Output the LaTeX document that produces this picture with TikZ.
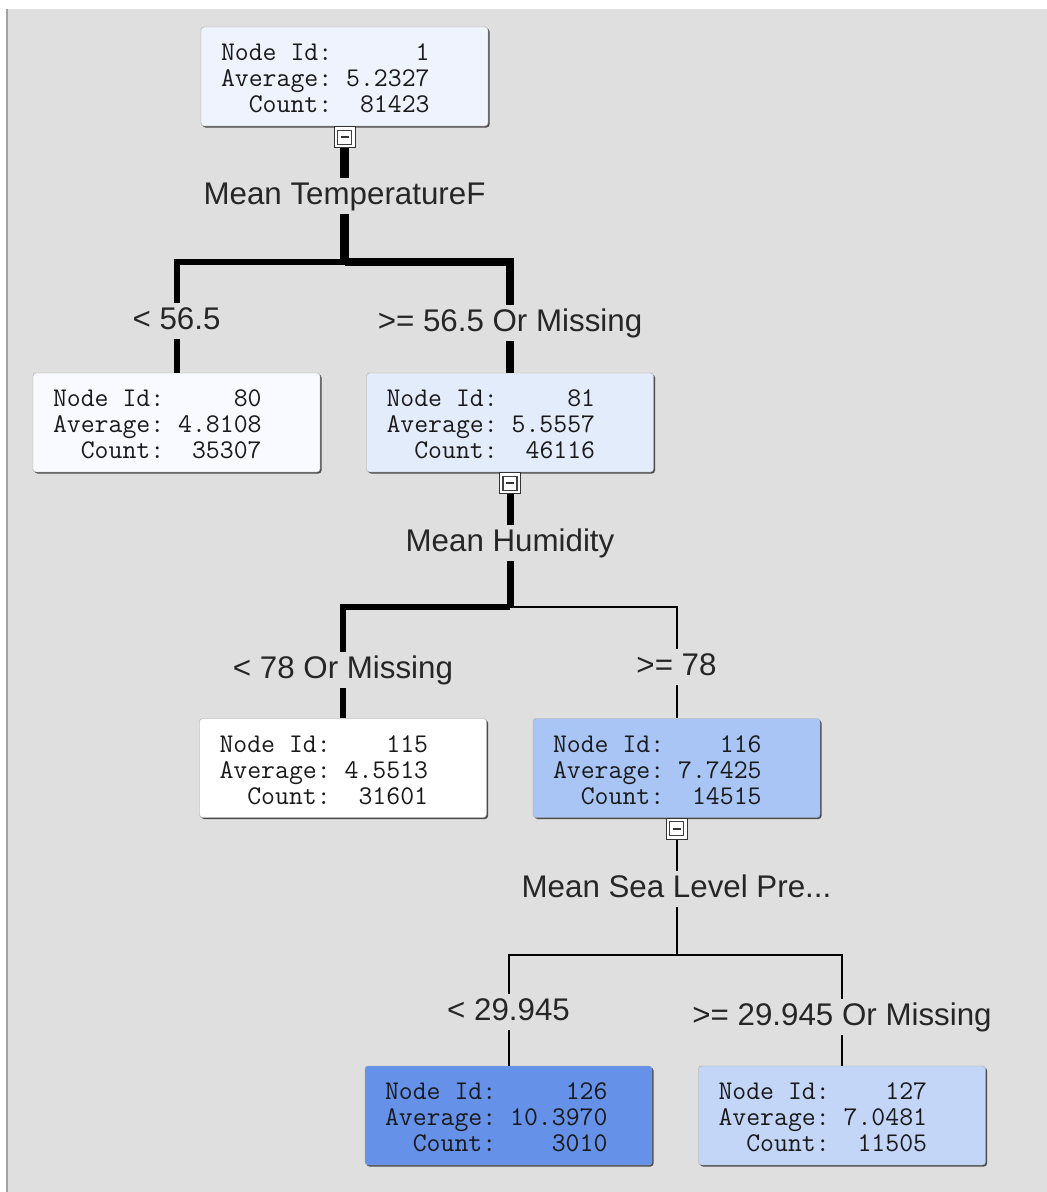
\documentclass[tikz,border=0pt]{standalone}
\usepackage{fontspec}
\setsansfont{Liberation Sans}
\usetikzlibrary{shadows,positioning}

\definecolor{panel}{HTML}{DFDFDF}
\definecolor{frame}{HTML}{A3A3A3}
\definecolor{lvA}{HTML}{F8FAFF}
\definecolor{lvB}{HTML}{EEF3FD}
\definecolor{lvC}{HTML}{E3ECFB}
\definecolor{lvD}{HTML}{C3D6F8}
\definecolor{lvE}{HTML}{A9C5F5}
\definecolor{lvF}{HTML}{6592E8}

\begin{document}
\begin{tikzpicture}[x=1pt,y=-1pt]
		\tikzset{leaf/.style={draw=black!35,rounded corners=3pt,minimum height=99pt,text width=247pt,inner xsep=20pt,inner ysep=0pt,
				align=left,text=black!90,font=\fontsize{27}{26}\selectfont\ttfamily,
				drop shadow={shadow xshift=1.5pt,shadow yshift=-1.5pt,fill=black!70,opacity=1}}};
		\tikzset{fold/.style={draw=black!80,fill=white,minimum width=21pt,minimum height=21pt,inner sep=0pt,line width=1pt,
				path picture={\draw[black!75,line width=1.2pt] ([shift={(3.5pt,3.5pt)}]path picture bounding box.south west) rectangle ([shift={(-3.5pt,-3.5pt)}]path picture bounding box.north east);
					\draw[line width=2pt] ([xshift=-4pt]path picture bounding box.center) -- ([xshift=4pt]path picture bounding box.center);}}};
		\tikzset{split/.style={font=\sffamily\fontsize{31.3}{33}\selectfont,text=black!85,fill=panel,anchor=base,
				text height=22pt,text depth=6pt,inner xsep=2pt,inner ysep=4pt}};
		\tikzset{link/.style={line width=#1,draw=black}};
		\newcommand{\cw}{\hphantom{0}}
		
		% window
		\useasboundingbox (0,0) rectangle (1047,1192);
		\fill[white] (0,0) rectangle (1047,1192);
		\fill[panel] (7,9) rectangle (1047,1192);
		\draw[frame,line width=2pt] (7,9) -- (7,1192);
		
		\foreach \id/\x/\y/\avg/\cnt/\tint in {1/344.5/76.5/5.2327/81423/lvB,80/176.5/422.5/4.8108/35307/lvA,81/510/422.5/5.5557/46116/lvC,
			115/343/768/4.5513/31601/white,116/676.5/768/7.7425/14515/lvE,126/508.5/1115.5/10.3970/3010/lvF,127/842/1115.5/7.0481/11505/lvD}
		\node[leaf,fill=\tint] (n\id) at (\x,\y) {\raisebox{-5pt}[\height][\depth]{\begin{tabular}{@{}r@{\cw}r@{}}Node\cw Id:&\id\\Average:&\avg\\Count:&\cnt\end{tabular}}};
		
		\node[fold,below=0pt of n1] (f1) {};
		\node[fold,below=0pt of n81] (f81) {};
		\node[fold,below=0pt of n116] (f116) {};
		
		\node[split] (s1) at (344.5,204) {Mean TemperatureF};
		\node[split] (s81) at (510,551) {Mean Humidity};
		\node[split] (s116) at (676.5,897) {Mean Sea Level Pre...};
		
		\node[split] (b80) at (176.5,329) {< 56.5};
		\node[split] (b81) at (510,331) {>= 56.5 Or Missing};
		\node[split] (b115) at (343,678) {< 78 Or Missing};
		\node[split] (b116) at (676.5,675) {>= 78};
		\node[split] (b126) at (508.5,1020) {< 29.945};
		\node[split] (b127) at (842,1025) {>= 29.945 Or Missing};
		
		\coordinate (j1) at (344.5,262);
		\coordinate (j81) at (510,607);
		\coordinate (j116) at (676.5,955);
		
		% first split
		\draw[link=8.5pt] (f1) -- (s1);
		\draw[link=8.5pt] (s1) -- (j1);
		\draw[link=6pt] (j1) -| (b80.north);
		\draw[link=6pt] (b80) -- (n80);
		\draw[link=7.5pt] (j1) -| (b81.north);
		\draw[link=7.5pt] (b81) -- (n81);
		
		% second split
		\draw[link=7pt] (f81) -- (s81);
		\draw[link=7pt] (s81) -- (j81);
		\draw[link=5.5pt] (j81) -| (b115.north);
		\draw[link=5.5pt] (b115) -- (n115);
		\draw[link=2pt] (j81) -| (b116.north);
		\draw[link=2pt] (b116) -- (n116);
		
		% third split
		\draw[link=2pt] (f116) -- (s116);
		\draw[link=2pt] (s116) -- (j116);
		\draw[link=2pt] (j116) -| (b126.north);
		\draw[link=2pt] (b126) -- (n126);
		\draw[link=2pt] (j116) -| (b127.north);
		\draw[link=2pt] (b127) -- (n127);
\end{tikzpicture}
\end{document}
